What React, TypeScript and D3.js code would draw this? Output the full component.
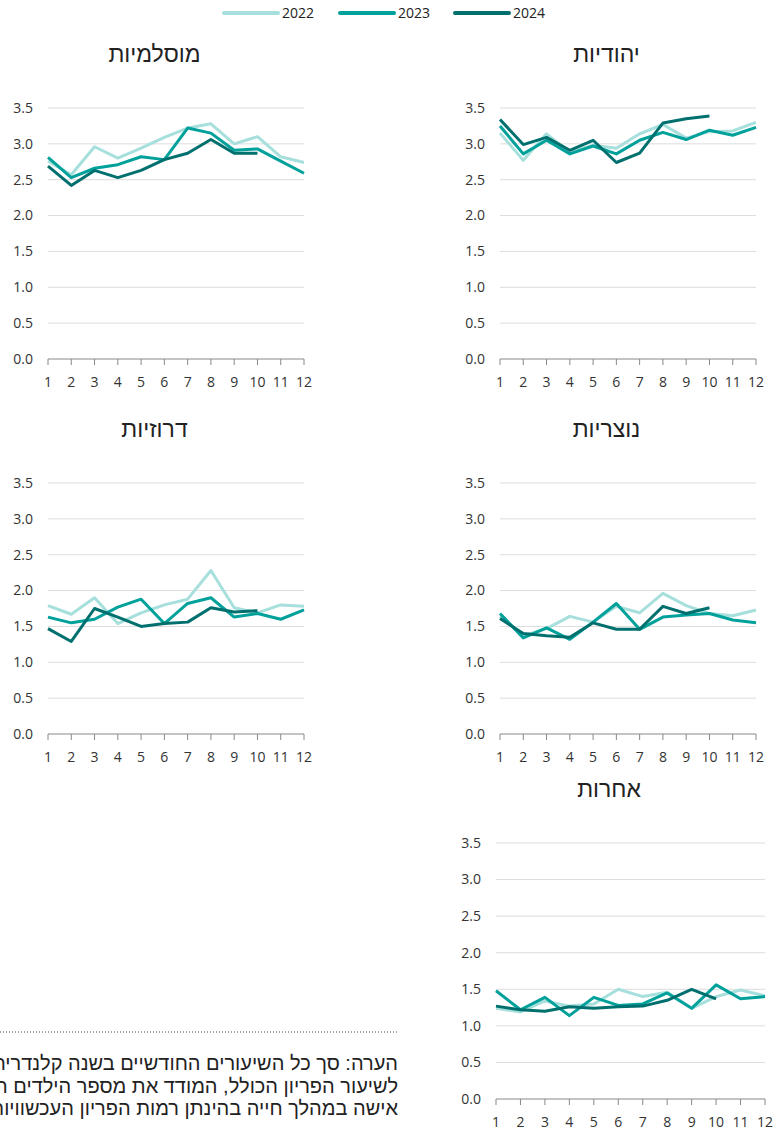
import React from 'react';
import * as d3 from 'd3';

const months = [1, 2, 3, 4, 5, 6, 7, 8, 9, 10, 11, 12];
const years = ['2022', '2023', '2024'];
const yTicks = [0, 0.5, 1, 1.5, 2, 2.5, 3, 3.5];
const colors = ['#a6dfdc', '#00a19b', '#00706f'];

// Monthly values
const jewish2022 = [3.15, 2.77, 3.14, 2.88, 2.98, 2.94, 3.14, 3.27, 3.08, 3.17, 3.18, 3.3];
const jewish2023 = [3.25, 2.86, 3.05, 2.86, 2.97, 2.86, 3.05, 3.16, 3.06, 3.19, 3.12, 3.23];
const jewish2024 = [3.34, 2.99, 3.09, 2.91, 3.05, 2.74, 2.87, 3.29, 3.35, 3.39];

const muslim2022 = [2.76, 2.57, 2.96, 2.8, 2.94, 3.09, 3.22, 3.28, 3.0, 3.1, 2.82, 2.74];
const muslim2023 = [2.81, 2.53, 2.66, 2.71, 2.82, 2.78, 3.22, 3.15, 2.91, 2.93, 2.76, 2.59];
const muslim2024 = [2.69, 2.42, 2.63, 2.53, 2.63, 2.78, 2.87, 3.06, 2.87, 2.87];

const christian2022 = [1.64, 1.37, 1.47, 1.64, 1.56, 1.78, 1.69, 1.96, 1.79, 1.68, 1.65, 1.73];
const christian2023 = [1.68, 1.34, 1.48, 1.32, 1.56, 1.82, 1.46, 1.63, 1.66, 1.68, 1.59, 1.55];
const christian2024 = [1.61, 1.4, 1.37, 1.35, 1.55, 1.46, 1.46, 1.78, 1.68, 1.76];

const druze2022 = [1.79, 1.67, 1.9, 1.54, 1.69, 1.8, 1.88, 2.28, 1.76, 1.69, 1.8, 1.78];
const druze2023 = [1.63, 1.55, 1.6, 1.77, 1.88, 1.54, 1.82, 1.9, 1.63, 1.68, 1.6, 1.73];
const druze2024 = [1.47, 1.29, 1.75, 1.63, 1.5, 1.54, 1.56, 1.76, 1.7, 1.72];

const other2022 = [1.24, 1.19, 1.34, 1.27, 1.3, 1.5, 1.4, 1.46, 1.24, 1.4, 1.49, 1.41];
const other2023 = [1.48, 1.22, 1.39, 1.14, 1.39, 1.28, 1.3, 1.45, 1.24, 1.56, 1.37, 1.4];
const other2024 = [1.27, 1.22, 1.2, 1.26, 1.24, 1.26, 1.27, 1.35, 1.5, 1.37];

const noteLines = [
  'הערה: סך כל השיעורים החודשיים בשנה קלנדרית מסוימת שווה',
  'לשיעור הפריון הכולל, המודד את מספר הילדים הממוצע שצפויה ללדת',
  'אישה במהלך חייה בהינתן רמות הפריון העכשוויות בכל גיל',
];

type Panel = {
  title: string;
  series: number[][];
  x0: number; x1: number; yTop: number; yBottom: number;
};

const panels: Panel[] = [
  { title: 'יהודיות', series: [jewish2022, jewish2023, jewish2024], x0: 500, x1: 756, yTop: 108, yBottom: 359 },
  { title: 'מוסלמיות', series: [muslim2022, muslim2023, muslim2024], x0: 48, x1: 304, yTop: 108, yBottom: 359 },
  { title: 'נוצריות', series: [christian2022, christian2023, christian2024], x0: 500, x1: 756, yTop: 483, yBottom: 734 },
  { title: 'דרוזיות', series: [druze2022, druze2023, druze2024], x0: 48, x1: 304, yTop: 483, yBottom: 734 },
  { title: 'אחרות', series: [other2022, other2023, other2024], x0: 496, x1: 765, yTop: 843, yBottom: 1099 },
];

const numFont = '"Open Sans", "Noto Sans", sans-serif';
const hebFont = '"Liberation Sans", Arial, sans-serif';

function SmallChart({ p }: { p: Panel }) {
  const x = d3.scaleLinear().domain([1, 12]).range([p.x0, p.x1]);
  const y = d3.scaleLinear().domain([0, 3.5]).range([p.yBottom, p.yTop]);
  const line = d3.line<number>()
    .x((_, i) => x(months[i]))
    .y(d => y(d));
  const labelRight = p.x0 - 15;
  const centerX = (labelRight - 28 + p.x1) / 2;

  return (
    <g>
      <text x={centerX} y={p.yTop - 46} textAnchor="middle" fontFamily={hebFont} fontSize={23}
        fontWeight={400} fill="#222">
        {p.title}
      </text>
      {yTicks.map(t => (
        <g key={t}>
          {t > 0 && (
            <line x1={p.x0} x2={p.x1} y1={y(t)} y2={y(t)} stroke="#dcdcdc" strokeWidth={1} />
          )}
          <text x={labelRight} y={y(t)} dy="0.35em" textAnchor="end" fontFamily={numFont} fontSize={14} fill="#333">
            {t.toFixed(1)}
          </text>
        </g>
      ))}
      <line x1={p.x0} x2={p.x1} y1={p.yBottom} y2={p.yBottom} stroke="#888" strokeWidth={1} />
      {months.map(m => (
        <g key={m}>
          <line x1={x(m)} x2={x(m)} y1={p.yBottom} y2={p.yBottom + 6} stroke="#888" strokeWidth={1} />
          <text x={x(m)} y={p.yBottom + 28} textAnchor="middle" fontFamily={numFont} fontSize={14} fill="#333">
            {m}
          </text>
        </g>
      ))}
      {p.series.map((s, i) => (
        <path key={i} d={line(s) || ''} fill="none" stroke={colors[i]} strokeWidth={3}
          strokeLinejoin="round" strokeLinecap="butt" />
      ))}
    </g>
  );
}

export default function App() {
  const legendX = d3.scaleOrdinal<string, number>().domain(years).range([224, 340, 455]);
  return (
    <svg width={776} height={1131} style={{ position: 'absolute', left: 0, top: 0, background: '#fff' }}>
      {years.map((yr, i) => (
        <g key={yr} transform={`translate(${legendX(yr)},13)`}>
          <line x1={0} x2={54} y1={0} y2={0} stroke={colors[i]} strokeWidth={4} strokeLinecap="round" />
          <text x={58} y={0} dy="0.35em" fontFamily={numFont} fontSize={14} fill="#222">{yr}</text>
        </g>
      ))}
      {panels.map(p => <SmallChart key={p.title} p={p} />)}
      <line x1={0} x2={397} y1={1032} y2={1032} stroke="#444" strokeWidth={1} strokeDasharray="1,2" />
      {noteLines.map((t, i) => (
        <text key={i} x={398} y={1070 + i * 22.5} textAnchor="end" fontFamily={hebFont} fontSize={20}
          fontWeight={400} fill="#222">
          {t}
        </text>
      ))}
    </svg>
  );
}
